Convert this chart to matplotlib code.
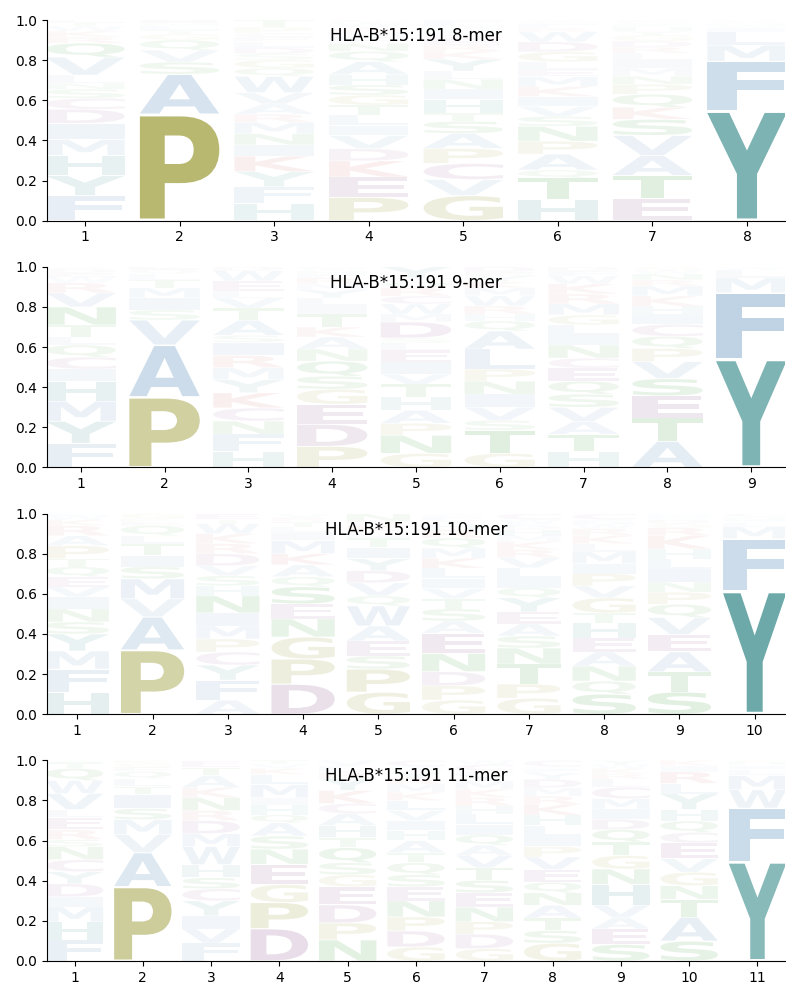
import numpy as np
import matplotlib
matplotlib.use("Agg")
import matplotlib.pyplot as plt
import matplotlib.transforms as mtransforms
from matplotlib.textpath import TextPath
from matplotlib.patches import PathPatch
from matplotlib.font_manager import FontProperties

allele = "HLA-B*15:191"

# letters of each position, bottom to top, and their heights
mer8_letters = ["FYHMIDCSNLVQRKWTE", "PASVQGTLME", "HFYKINMRAVWQGSDLECPT",
                "PEKDVILTGSHAQNFMRYWC", "GVCPASTHINLYKREDMQWF", "HTQAPNSVIKMELGDWRFCY",
                "ETAVSKQPNMILRDGYHFWC", "YFMLIWHVC"]
mer8_heights = [
    [.125, .10, .10, .08, .08, .07, .055, .045, .03, .04, .09, .07, .03, .03, .025, .02, .01],
    [.53, .20, .06, .06, .05, .03, .02, .02, .015, .015],
    [.085, .08, .075, .075, .055, .055, .055, .04, .05, .055, .08, .04, .04, .03, .03, .03, .02, .02, .03, .035],
    [.115, .10, .08, .06, .065, .05, .05, .05, .05, .05, .05, .065, .05, .04, .03, .02, .02, .015, .02, .01],
    [.125, .08, .08, .075, .075, .06, .04, .07, .05, .05, .04, .06, .04, .03, .03, .02, .02, .015, .01, .03],
    [.105, .11, .04, .08, .065, .075, .05, .05, .05, .05, .05, .035, .04, .05, .05, .05, .02, .02, .01, .01],
    [.11, .115, .10, .10, .08, .06, .065, .05, .04, .04, .04, .035, .03, .03, .03, .02, .02, .015, .01, .01],
    [.545, .245, .08, .065, .02, .015, .01, .01, .005],
]

mer9_letters = ["FYMHICQLTNVRWEDA", "PAVSIMTLQE", "HFNCKYMRISATVLEWD",
                "PDEGSQNAKTILYMRFHWC", "GNPAHTVIELSDMWCRQFY", "GTSVINPLAQHRWMKYED",
                "HTAVSQECNILGMRKWFD", "ATESVPQCIHKMRNWG", "YFMLW"]
mer9_heights = [
    [.12, .11, .10, .10, .06, .06, .06, .04, .06, .09, .07, .05, .03, .02, .02, .01],
    [.35, .26, .125, .05, .06, .05, .04, .03, .02, .015],
    [.08, .085, .065, .065, .075, .065, .06, .06, .065, .035, .075, .06, .05, .035, .05, .05, .02],
    [.105, .11, .10, .075, .065, .075, .06, .06, .05, .065, .04, .04, .04, .03, .03, .02, .015, .01, .01],
    [.07, .09, .06, .065, .065, .065, .05, .06, .06, .035, .025, .08, .04, .05, .04, .04, .03, .02, .055],
    [.07, .115, .05, .065, .065, .065, .06, .10, .09, .05, .035, .04, .05, .04, .03, .03, .02, .025],
    [.08, .085, .065, .07, .065, .065, .065, .05, .065, .05, .05, .05, .055, .05, .05, .04, .025, .02],
    [.13, .115, .11, .085, .085, .065, .06, .06, .05, .04, .05, .05, .03, .03, .02, .015],
    [.54, .33, .075, .04, .015],
]

mer10_letters = ["HFMYSNIVEQTPARKWL", "PAVMSITLQEKG", "AFYCPMINHSVDRKWTE",
                 "DPGNESQAKMILTRV", "GPSEAWQVDYITLKRN", "GPDNEASTVILKMQRHYFW",
                 "GPTNSAEYQILVRKMHDFWC", "SQNAEHTGVPIMLKRWDFC", "STAEVQPNILHKRGDWFM",
                 "YFMLWIHC"]
mer10_heights = [
    [.11, .115, .09, .085, .06, .065, .06, .05, .05, .05, .04, .065, .05, .05, .03, .02, .01],
    [.32, .165, .09, .10, .06, .055, .06, .04, .05, .02, .015, .025],
    [.07, .10, .075, .065, .065, .065, .065, .085, .05, .05, .05, .06, .05, .05, .05, .02, .03],
    [.15, .125, .11, .09, .075, .085, .05, .06, .055, .065, .04, .03, .025, .02, .02],
    [.11, .115, .065, .075, .075, .10, .05, .065, .06, .06, .055, .05, .03, .03, .02, .04],
    [.07, .07, .07, .09, .10, .06, .06, .05, .05, .05, .05, .05, .05, .05, .04, .03, .02, .02, .01],
    [.08, .07, .10, .08, .06, .06, .06, .07, .05, .05, .05, .05, .04, .04, .03, .03, .02, .01, .02, .03],
    [.10, .065, .075, .07, .07, .075, .05, .075, .06, .06, .05, .06, .04, .04, .035, .02, .015, .01, .03],
    [.11, .10, .10, .085, .085, .065, .06, .05, .065, .05, .05, .065, .04, .02, .02, .01, .01, .01],
    [.615, .26, .06, .02, .01, .01, .01, .015],
]

mer11_letters = ["FHMIDYCNSRELVWQTA", "PAVMSITLQEGK", "FVIYCSHWMDRNKATE",
                 "DPGENSAQHIMLKVT", "NPDEGSQTHACKYRLV", "GDPNESQTAHIVLKMRYWFC",
                 "GDPNESTVAQILHRKMYFCW", "GSTANQEVPILHKRMDYFWC", "SEAVHNGTQDIMCLRKWY",
                 "SATNGVECQHYLRIK", "YFWMLIHC"]
mer11_heights = [
    [.105, .09, .075, .05, .065, .06, .06, .065, .035, .05, .06, .04, .08, .065, .06, .03, .01],
    [.37, .17, .09, .075, .055, .07, .04, .04, .035, .02, .02, .015],
    [.09, .07, .065, .075, .06, .055, .065, .09, .065, .065, .05, .065, .05, .06, .04, .035],
    [.16, .13, .09, .10, .075, .065, .065, .04, .05, .035, .065, .05, .03, .02, .02],
    [.105, .085, .09, .09, .06, .06, .075, .05, .06, .06, .05, .065, .06, .03, .03, .03],
    [.07, .08, .07, .08, .07, .06, .06, .05, .06, .05, .05, .05, .05, .04, .04, .03, .03, .02, .01, .03],
    [.06, .07, .06, .07, .07, .06, .06, .06, .05, .05, .05, .05, .04, .04, .04, .04, .03, .02, .03, .02],
    [.085, .06, .06, .06, .06, .05, .06, .06, .05, .05, .05, .05, .05, .04, .04, .04, .03, .02, .01, .03],
    [.08, .075, .055, .06, .10, .075, .065, .065, .06, .05, .05, .05, .055, .04, .025, .025, .02, .02],
    [.095, .115, .085, .065, .065, .065, .075, .05, .055, .055, .075, .05, .055, .03, .025],
    [.49, .265, .09, .07, .03, .02, .015, .01],
]

aa_colors = {}
for aa in "PG":
    aa_colors[aa] = "olive"
for aa in "AFMVILW":
    aa_colors[aa] = "steelblue"
for aa in "YH":
    aa_colors[aa] = "#1e7b7b"
for aa in "DEC":
    aa_colors[aa] = "#7a3a7a"
for aa in "KR":
    aa_colors[aa] = "#c83c3c"
for aa in "STNQ":
    aa_colors[aa] = "green"

font = FontProperties(family="DejaVu Sans", weight="bold")


def draw_letter(ax, ch, x, y0, w, h, color, alpha):
    tp = TextPath((0, 0), ch, size=1, prop=font)
    bb = tp.get_extents()
    gh = h * 0.96
    t = (mtransforms.Affine2D()
         .translate(-bb.x0, -bb.y0)
         .scale(w / bb.width, gh / bb.height)
         .translate(x - w / 2, y0 + h * 0.02))
    ax.add_patch(PathPatch(t.transform_path(tp), facecolor=color,
                           edgecolor="none", alpha=alpha))


panels = [(8, mer8_letters, mer8_heights), (9, mer9_letters, mer9_heights),
          (10, mer10_letters, mer10_heights), (11, mer11_letters, mer11_heights)]

fig, axes = plt.subplots(4, 1, figsize=(8, 10), dpi=100)
fig.subplots_adjust(left=0.059, right=0.981, top=0.98, bottom=0.039, hspace=0.23)

for ax, (n, letters, heights) in zip(axes, panels):
    for i in range(n):
        hs = np.array(heights[i], dtype=float)
        hs = hs / hs.sum()
        y = 0.0
        for ch, h in zip(letters[i], hs):
            draw_letter(ax, ch, i + 1, y, 0.84, h, aa_colors[ch], min(1.0, 1.05 * h))
            y += h
    ax.set_xlim(0.6, n + 0.4)
    ax.set_ylim(0, 1)
    ax.set_xticks(range(1, n + 1))
    ax.set_yticks([0, 0.2, 0.4, 0.6, 0.8, 1.0])
    ax.spines["top"].set_visible(False)
    ax.spines["right"].set_visible(False)
    ax.text(0.5, 0.92, f"{allele} {n}-mer", transform=ax.transAxes,
            ha="center", va="center", fontsize=12)

fig.savefig("out.png")
